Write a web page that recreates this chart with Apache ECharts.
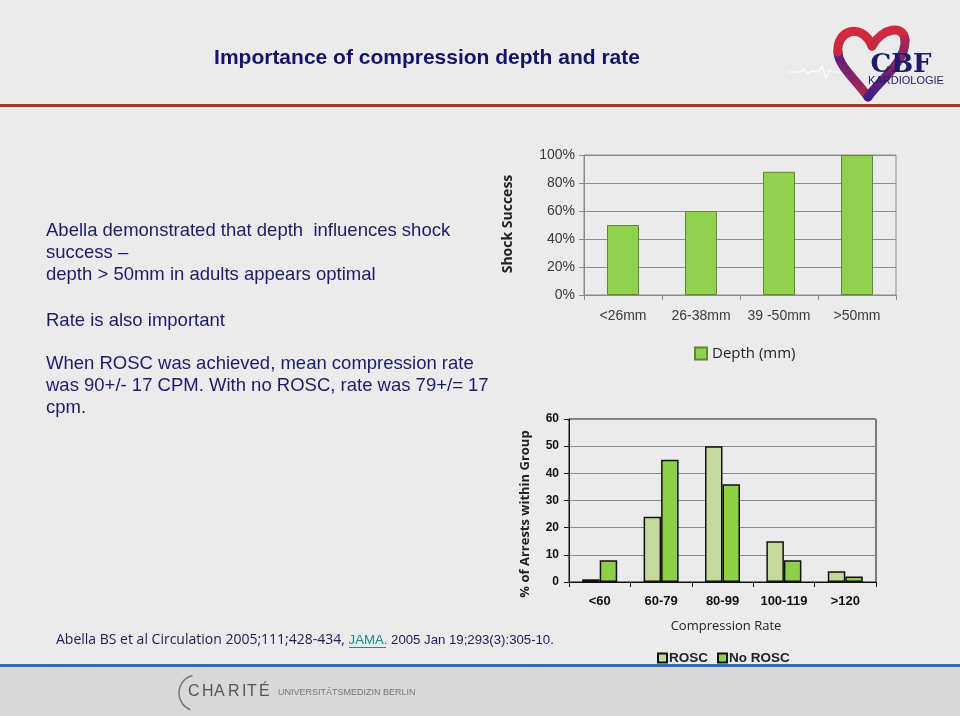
<!DOCTYPE html>
<html>
<head>
<meta charset="utf-8">
<script src="https://cdn.jsdelivr.net/npm/echarts@6/dist/echarts.min.js"></script>
<style>
html,body{margin:0;padding:0;background:#EBEBEB;}
#chart{width:960px;height:716px;}
</style>
</head>
<body>
<div id="chart"></div>
<script>
// ---- data ----
const depthCategories = ['<26mm', '26-38mm', '39 -50mm', '>50mm'];
const depthSuccess = [0.50, 0.60, 0.88, 1.00];
const rateCategories = ['<60', '60-79', '80-99', '100-119', '>120'];
const roscValues = [1, 24, 50, 15, 4];
const noRoscValues = [8, 45, 36, 8, 2];
const bodyLines = [
  'Abella demonstrated that depth  influences shock',
  'success \u2013',
  'depth > 50mm in adults appears optimal'
];
const rateLine = 'Rate is also important';
const roscLines = [
  'When ROSC was achieved, mean compression rate',
  'was 90+/- 17 CPM. With no ROSC, rate was 79+/= 17',
  'cpm.'
];

const navy = '#1C1C6C';
const bodyFont = '18.5px Arial, "Liberation Sans"';
const chart = echarts.init(document.getElementById('chart'), null, {renderer: 'canvas'});

const textEls = [];
function addLine(t, y) {
  textEls.push({type: 'text', x: 46, y: y, style: {text: t, font: bodyFont, fill: navy, textVerticalAlign: 'middle'}});
}
bodyLines.forEach((t, i) => addLine(t, 231 + i * 22));
addLine(rateLine, 321);
roscLines.forEach((t, i) => addLine(t, 364 + i * 22));

function heartSeg(x1, y1, c1x, c1y, c2x, c2y, x2, y2, colA, colB) {
  return {type: 'bezierCurve', shape: {x1: x1, y1: y1, cpx1: c1x, cpy1: c1y, cpx2: c2x, cpy2: c2y, x2: x2, y2: y2},
    style: {fill: null, lineWidth: 9, lineCap: 'round', stroke: new echarts.graphic.LinearGradient(0, 0, 0, 1, [{offset: 0, color: colA}, {offset: 1, color: colB}])}};
}
const chariteLetters = [['C', 188], ['H', 202], ['A', 214], ['R', 228], ['I', 242], ['T', 247], ['\u00C9', 259]];
const chariteEls = chariteLetters.map(p => ({type: 'text', x: p[1], y: 692, style: {text: p[0], font: '16px Arial, "Liberation Sans"', fill: '#555', textVerticalAlign: 'middle'}}));

const option = {
  backgroundColor: '#EBEBEB',
  animation: false,
  graphic: [
    // footer
    {type: 'rect', shape: {x: 0, y: 667, width: 960, height: 49}, style: {fill: '#D8D8D8'}, z: -10},
    {type: 'rect', shape: {x: 0, y: 664, width: 960, height: 3}, style: {fill: '#2F6DB5'}},
    // header line
    {type: 'rect', shape: {x: 0, y: 104, width: 960, height: 3}, style: {fill: '#A8382A'}},
    // title
    {type: 'text', x: 427, y: 58, style: {text: 'Importance of compression depth and rate', font: 'bold 21px Arial, "Liberation Sans"', fill: '#13136B', textAlign: 'center', textVerticalAlign: 'middle'}},
    // logo
    {type: 'polyline', shape: {points: [[788,72],[800,72],[804,69],[807,74],[812,71],[818,72],[822,66],[826,78],[830,70],[836,72],[850,72]]}, style: {stroke: '#FFFFFF', lineWidth: 1.2, fill: null}},
    heartSeg(868, 97, 858, 82, 838, 66, 838, 52, '#4A1E88', '#B82848'),
    heartSeg(838, 52, 836, 30, 862, 22, 872, 46, '#D42A3C', '#C8283E'),
    heartSeg(872, 46, 882, 28, 904, 24, 905, 40, '#D42A3C', '#C02848'),
    heartSeg(905, 40, 906, 62, 880, 80, 868, 97, '#B02850', '#3A1E8A'),
    {type: 'text', x: 901, y: 65, style: {text: 'CBF', font: 'bold 26px "DejaVu Serif", serif', fill: '#1E1A6E', textAlign: 'center', textVerticalAlign: 'middle'}},
    {type: 'text', x: 906, y: 81, style: {text: 'KARDIOLOGIE', font: '11px Arial, "Liberation Sans"', fill: '#1E1A6E', textAlign: 'center', textVerticalAlign: 'middle'}},
    // axis names
    {type: 'text', x: 508, y: 224, rotation: Math.PI / 2, style: {text: 'Shock Success', font: 'bold 14px "Open Sans", "Noto Sans"', fill: '#222', textAlign: 'center', textVerticalAlign: 'middle'}},
    {type: 'text', x: 525, y: 514, rotation: Math.PI / 2, style: {text: '% of Arrests within Group', font: 'bold 13px "Open Sans", "Noto Sans"', fill: '#222', textAlign: 'center', textVerticalAlign: 'middle'}},
    {type: 'text', x: 726, y: 626, style: {text: 'Compression Rate', font: '13px "Open Sans", "Noto Sans"', fill: '#222', textAlign: 'center', textVerticalAlign: 'middle'}},
    // citation
    {type: 'text', x: 56, y: 640, style: {
      text: '{a|Abella BS et al Circulation 2005;111;428-434, }{j|JAMA.}{b| 2005 Jan 19;293(3):305-10.}',
      textVerticalAlign: 'middle',
      rich: {
        a: {font: '14px "Open Sans", "Noto Sans"', fill: '#1C1C5C'},
        j: {font: '13.2px Arial, "Liberation Sans"', fill: '#1A8C8C'},
        b: {font: '13.2px Arial, "Liberation Sans"', fill: '#1C1C5C'}
      }}},
    {type: 'rect', shape: {x: 349, y: 647, width: 37, height: 1}, style: {fill: '#1A8C8C'}},
    // Charité footer
    {type: 'arc', shape: {cx: 197, cy: 693, r: 18, startAngle: Math.PI * 0.62, endAngle: Math.PI * 1.42}, style: {stroke: '#777', lineWidth: 1.5, fill: null}},
    {type: 'text', x: 278, y: 693, style: {text: 'UNIVERSITÄTSMEDIZIN BERLIN', font: '9px Arial, "Liberation Sans"', fill: '#777', textVerticalAlign: 'middle'}}
  ].concat(chariteEls, textEls),
  legend: [
    {data: ['Depth (mm)'], left: 689, top: 341, itemWidth: 12, itemHeight: 12, icon: 'rect',
      textStyle: {fontFamily: '"Open Sans", "Noto Sans"', fontSize: 15, color: '#222'}},
    {data: ['ROSC', 'No ROSC'], left: 652, top: 646, itemWidth: 9, itemHeight: 9, itemGap: 9, icon: 'rect',
      textStyle: {fontFamily: 'Arial, "Liberation Sans"', fontSize: 13.5, fontWeight: 'bold', color: '#222', padding: [0, 0, 0, -3]}}
  ],
  grid: [
    {left: 584, right: 64, top: 155, bottom: 421, show: true, borderColor: '#8C8C8C', borderWidth: 1, backgroundColor: 'transparent'},
    {left: 569, right: 84, top: 419, bottom: 134, show: true, borderColor: '#111', borderWidth: 1, backgroundColor: 'transparent'}
  ],
  xAxis: [
    {type: 'category', gridIndex: 0, data: depthCategories,
      axisLine: {lineStyle: {color: '#8C8C8C'}},
      axisTick: {show: true, alignWithLabel: false, length: 5, lineStyle: {color: '#8C8C8C'}},
      axisLabel: {interval: 0, margin: 14, fontSize: 14, fontFamily: 'Arial, "Liberation Sans"', color: '#3A3A3A'}},
    {type: 'category', gridIndex: 1, data: rateCategories,
      axisLine: {lineStyle: {color: '#111'}},
      axisTick: {show: true, alignWithLabel: false, length: 5, lineStyle: {color: '#111'}},
      axisLabel: {interval: 0, margin: 13, fontSize: 13, fontWeight: 'bold', fontFamily: 'Arial, "Liberation Sans"', color: '#111'}}
  ],
  yAxis: [
    {type: 'value', gridIndex: 0, min: 0, max: 1, interval: 0.2,
      axisLine: {show: true, lineStyle: {color: '#8C8C8C'}},
      axisTick: {show: true, length: 5, lineStyle: {color: '#8C8C8C'}},
      splitLine: {lineStyle: {color: '#8C8C8C'}},
      axisLabel: {formatter: v => Math.round(v * 100) + '%', fontSize: 14, margin: 9, fontFamily: 'Arial, "Liberation Sans"', color: '#3A3A3A'}},
    {type: 'value', gridIndex: 1, min: 0, max: 60, interval: 10,
      axisLine: {show: true, lineStyle: {color: '#111'}},
      axisTick: {show: true, length: 5, lineStyle: {color: '#111'}},
      splitLine: {lineStyle: {color: '#8A8A8A'}},
      axisLabel: {fontSize: 12, fontWeight: 'bold', margin: 10, fontFamily: 'Arial, "Liberation Sans"', color: '#111'}}
  ],
  series: [
    {name: 'Depth (mm)', type: 'bar', xAxisIndex: 0, yAxisIndex: 0, data: depthSuccess, barWidth: '41%',
      itemStyle: {color: '#92D050', borderColor: '#5F8A30', borderWidth: 1}},
    {name: 'ROSC', type: 'bar', xAxisIndex: 1, yAxisIndex: 1, data: roscValues, barGap: '0%', barCategoryGap: '43%',
      itemStyle: {color: '#C4D99B', borderColor: '#111', borderWidth: 1.5}},
    {name: 'No ROSC', type: 'bar', xAxisIndex: 1, yAxisIndex: 1, data: noRoscValues, barGap: '0%', barCategoryGap: '43%',
      itemStyle: {color: '#8DCF47', borderColor: '#111', borderWidth: 1.5}}
  ]
};
chart.setOption(option);
</script>
</body>
</html>
